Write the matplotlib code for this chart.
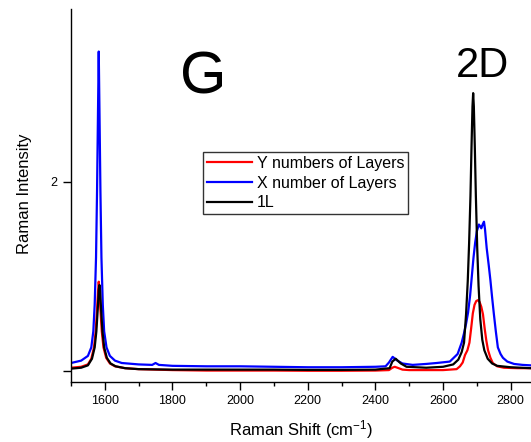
#!/usr/bin/env python3
"""Raman spectra: G and 2D bands for 1L, X and Y layer samples."""

import matplotlib
matplotlib.use("Agg")
import matplotlib.pyplot as plt
from matplotlib.ticker import MultipleLocator

plt.rcParams.update({
    "font.family": ["Liberation Sans", "DejaVu Sans"],
    "mathtext.default": "regular",
    "axes.linewidth": 1.0,
    "xtick.direction": "out",
    "ytick.direction": "out",
})

# ── Data ────────────────────────────────────────────────────────────
# Y numbers of Layers (red)
y_shift = [1500, 1530, 1550, 1560, 1568, 1573, 1577, 1580, 1582, 1584, 1587,
           1591, 1596, 1604, 1615, 1630, 1660, 1700, 1800, 1900, 2000, 2100,
           2200, 2300, 2400, 2440, 2450, 2457, 2465, 2480, 2500, 2550, 2600,
           2640, 2650, 2658, 2665, 2672, 2678, 2683, 2688, 2693, 2698, 2703,
           2708, 2713, 2718, 2723, 2728, 2733, 2740, 2747, 2760, 2780, 2820,
           2860]
y_int = [0.035, 0.045, 0.07, 0.13, 0.25, 0.42, 0.65, 0.85, 0.945, 0.87, 0.65,
         0.42, 0.25, 0.14, 0.08, 0.05, 0.03, 0.02, 0.01, 0.005, 0.005, 0.005,
         0.003, 0.003, 0.005, 0.01, 0.035, 0.045, 0.035, 0.015, 0.01, 0.01,
         0.01, 0.02, 0.05, 0.09, 0.17, 0.22, 0.3, 0.45, 0.61, 0.7, 0.74, 0.75,
         0.73, 0.68, 0.6, 0.45, 0.32, 0.22, 0.14, 0.085, 0.05, 0.035, 0.03,
         0.03]

# X number of Layers (blue)
x_shift = [1500, 1530, 1550, 1560, 1566, 1570, 1574, 1577, 1580, 1582, 1584,
           1587, 1590, 1594, 1598, 1605, 1615, 1630, 1650, 1700, 1740, 1750,
           1760, 1800, 1900, 2000, 2100, 2200, 2300, 2400, 2430, 2440, 2451,
           2465, 2480, 2510, 2550, 2581, 2620, 2643, 2655, 2662, 2668, 2674,
           2680, 2685, 2690, 2695, 2700, 2706, 2710, 2713, 2717, 2721, 2724,
           2729, 2735, 2740, 2745, 2750, 2756, 2762, 2770, 2777, 2790, 2810,
           2835, 2860]
x_int = [0.085, 0.11, 0.16, 0.25, 0.42, 0.7, 1.2, 1.9, 2.8, 3.38, 2.8,
         1.9, 1.2, 0.7, 0.42, 0.25, 0.16, 0.11, 0.085, 0.07, 0.065, 0.085,
         0.065, 0.055, 0.05, 0.05, 0.045, 0.04, 0.04, 0.045, 0.05, 0.09, 0.15,
         0.11, 0.08, 0.065, 0.075, 0.085, 0.1, 0.18, 0.3, 0.4, 0.5, 0.62,
         0.8, 1.0, 1.2, 1.36, 1.48, 1.55, 1.53, 1.51, 1.55, 1.58, 1.5,
         1.3, 1.12, 0.96, 0.78, 0.61, 0.42, 0.25, 0.18, 0.14, 0.1, 0.075,
         0.065, 0.06]

# 1L (black)
one_shift = [1500, 1530, 1550, 1562, 1570, 1575, 1579, 1582, 1584, 1586,
             1589, 1593, 1598, 1606, 1617, 1632, 1660, 1700, 1800, 1900, 2000,
             2100, 2200, 2300, 2400, 2442, 2450, 2460, 2475, 2492, 2550, 2600,
             2630, 2645, 2655, 2662, 2668, 2673, 2677, 2681, 2684, 2687, 2689,
             2691, 2694, 2697, 2701, 2705, 2710, 2716, 2722, 2732, 2745, 2760,
             2800, 2860]
one_int = [0.025, 0.035, 0.06, 0.13, 0.25, 0.42, 0.65, 0.85, 0.91, 0.85,
           0.65, 0.42, 0.25, 0.14, 0.08, 0.05, 0.03, 0.02, 0.015, 0.015, 0.015,
           0.015, 0.012, 0.012, 0.015, 0.03, 0.1, 0.13, 0.08, 0.045, 0.035,
           0.045, 0.07, 0.12, 0.2, 0.3, 0.6, 0.95, 1.35, 1.85, 2.35, 2.8, 2.94,
           2.8, 2.35, 1.85, 1.3, 0.9, 0.55, 0.33, 0.22, 0.13, 0.08, 0.055,
           0.04, 0.03]

# ── Figure ──────────────────────────────────────────────────────────
fig = plt.figure(figsize=(5.31, 4.42), dpi=100)
ax = fig.add_axes([71 / 531, 60 / 442, 460 / 531, 373 / 442])

ax.plot(y_shift, y_int, color="#ff0000", lw=1.6, label="Y numbers of Layers")
ax.plot(x_shift, x_int, color="#0000ff", lw=1.6, label="X number of Layers")
ax.plot(one_shift, one_int, color="black", lw=1.6, label="1L")

ax.set_xlim(1500, 2860)
ax.set_ylim(-0.116, 3.83)

ax.xaxis.set_major_locator(MultipleLocator(200))
ax.xaxis.set_minor_locator(MultipleLocator(100))
ax.set_yticks([0, 2])
ax.set_yticklabels(["", "2"])
ax.tick_params(which="major", length=6, width=1.0, labelsize=9)
ax.tick_params(which="minor", length=3, width=1.0)

ax.spines["top"].set_visible(False)
ax.spines["right"].set_visible(False)

ax.set_xlabel("Raman Shift (cm$^{-1}$)", fontsize=12)
ax.set_ylabel("Raman Intensity", fontsize=12)
ax.xaxis.set_label_coords(0.5, -0.097)
ax.yaxis.set_label_coords(-0.085, 0.504)

ax.text(1890, 2.94, "G", fontsize=43, ha="center", va="baseline")
ax.text(2717, 3.11, "2D", fontsize=30, ha="center", va="baseline")

leg = ax.legend(loc="upper left", bbox_to_anchor=(0.287, 0.617),
                borderaxespad=0, fontsize=11.5, frameon=True, fancybox=False,
                edgecolor="black", handlelength=2.8, handletextpad=0.3,
                borderpad=0.25, labelspacing=0.3)
leg.get_frame().set_linewidth(1.0)

fig.savefig("out.png", dpi=100)
